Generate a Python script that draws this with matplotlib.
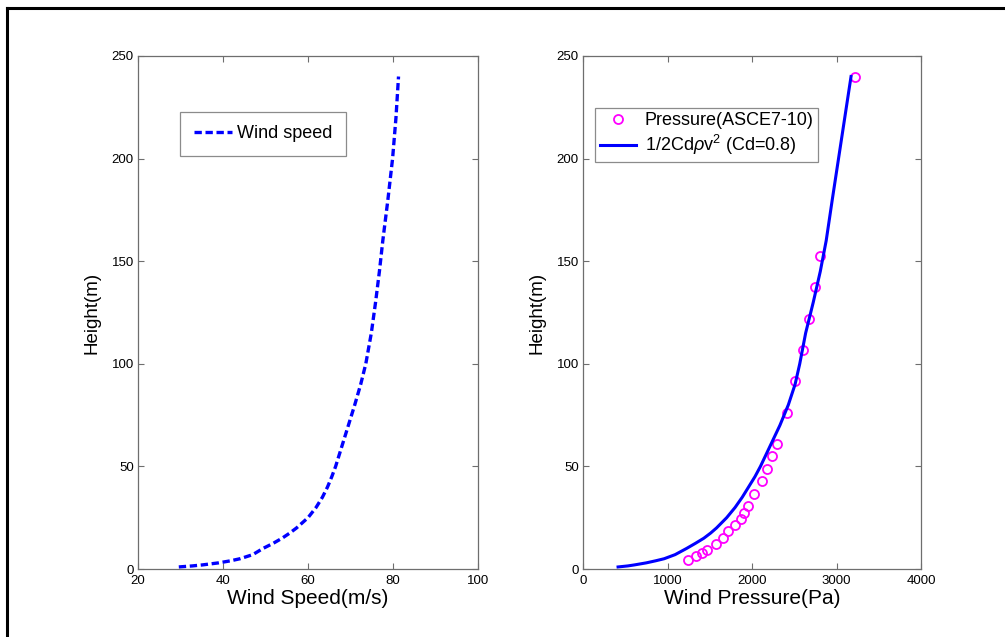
import matplotlib
matplotlib.use("Agg")
import matplotlib.pyplot as plt
from matplotlib.lines import Line2D

plt.rcParams['font.family'] = ['Liberation Sans', 'DejaVu Sans']
plt.rcParams['mathtext.fontset'] = 'custom'
plt.rcParams['mathtext.rm'] = 'Liberation Sans'
plt.rcParams['mathtext.it'] = 'Liberation Sans:italic'

# profile
heights = [1, 1.5, 2, 3, 4, 5, 7, 10, 12.5, 15, 17.5, 20, 25, 30, 35, 40, 45, 50, 60, 70,
           80, 90, 100, 115, 130, 145, 160, 180, 200, 220, 240]
wind_speed = [29.6, 32.8, 35.2, 39.0, 41.8, 44.0, 47.0, 49.4, 51.8, 53.9, 55.7, 57.3, 60.0,
              61.9, 63.4, 64.6, 65.6, 66.5, 68.0, 69.5, 71.0, 72.4, 73.6, 74.9, 75.9, 76.8,
              77.6, 78.8, 79.9, 80.7, 81.3]
wind_pressure = [415, 530, 610, 750, 860, 960, 1090, 1225, 1330, 1430, 1510, 1580, 1700,
                 1800, 1885, 1960, 2035, 2100, 2215, 2330, 2430, 2510, 2565, 2635, 2725,
                 2808, 2878, 2950, 3024, 3098, 3172]

# ASCE7-10 points
asce_height = [4.6, 6.1, 7.6, 9.1, 12.2, 15.2, 18.3, 21.3, 24.4, 27.4, 30.5, 36.6, 42.7,
               48.8, 54.9, 61.0, 76.2, 91.4, 106.7, 121.9, 137.2, 152.4, 240.0]
asce_pressure = [1240, 1335, 1405, 1470, 1570, 1655, 1720, 1800, 1865, 1910, 1950, 2025,
                 2115, 2175, 2235, 2290, 2410, 2510, 2600, 2670, 2750, 2805, 3220]

W, H = 1005, 637
fig = plt.figure(figsize=(W / 100, H / 100), dpi=100)

# black frame (left and top visible)
fig.add_artist(Line2D([7 / W, 7 / W], [0, 1 - 8 / H], color='black', lw=2.2))
fig.add_artist(Line2D([7 / W, 1], [1 - 8 / H, 1 - 8 / H], color='black', lw=2.2))

spine_col = '#6e6e6e'


def style_axes(ax):
    for s in ax.spines.values():
        s.set_color(spine_col)
        s.set_linewidth(0.9)
    ax.tick_params(direction='in', length=4, width=0.8, color=spine_col,
                   top=True, right=True, labelsize=9.5, pad=3)
    ax.tick_params(axis='x', pad=4)


ax1 = fig.add_axes([138 / W, 1 - 569 / H, 340 / W, 513 / H])
ax1.plot(wind_speed, heights, '--', color='#0000ff', lw=2.4, dashes=(2.2, 1.1), label='Wind speed')
ax1.set_xlim(20, 100)
ax1.set_ylim(0, 250)
ax1.set_xticks([20, 40, 60, 80, 100])
ax1.set_yticks([0, 50, 100, 150, 200, 250])
ax1.set_xlabel('Wind Speed(m/s)', fontsize=15, labelpad=2)
ax1.set_ylabel('Height(m)', fontsize=13.5, labelpad=8)
style_axes(ax1)
leg1 = ax1.legend(loc='upper left', bbox_to_anchor=(0.124, 0.891), borderaxespad=0,
                  fancybox=False, edgecolor=spine_col, fontsize=13, handlelength=2.1,
                  borderpad=0.75, handletextpad=0.3)
leg1.get_frame().set_linewidth(0.9)

ax2 = fig.add_axes([583 / W, 1 - 569 / H, 338 / W, 513 / H])
ax2.plot(asce_pressure, asce_height, 'o', mfc='none', mec='#ff00ff', mew=1.3, ms=6.5,
         label='Pressure(ASCE7-10)')
ax2.plot(wind_pressure, heights, '-', color='#0000ff', lw=2.2,
         label=r'1/2Cd$\rho$v$^2$ (Cd=0.8)')
ax2.set_xlim(0, 4000)
ax2.set_ylim(0, 250)
ax2.set_xticks([0, 1000, 2000, 3000, 4000])
ax2.set_yticks([0, 50, 100, 150, 200, 250])
ax2.set_xlabel('Wind Pressure(Pa)', fontsize=15, labelpad=2)
ax2.set_ylabel('Height(m)', fontsize=13.5, labelpad=8)
style_axes(ax2)
leg2 = ax2.legend(loc='upper left', bbox_to_anchor=(0.036, 0.899), borderaxespad=0,
                  fancybox=False, edgecolor=spine_col, fontsize=13, handlelength=2.0,
                  borderpad=0.25, handletextpad=0.5, labelspacing=0.2)
leg2.get_frame().set_linewidth(0.9)

fig.savefig('out.png', dpi=100)
